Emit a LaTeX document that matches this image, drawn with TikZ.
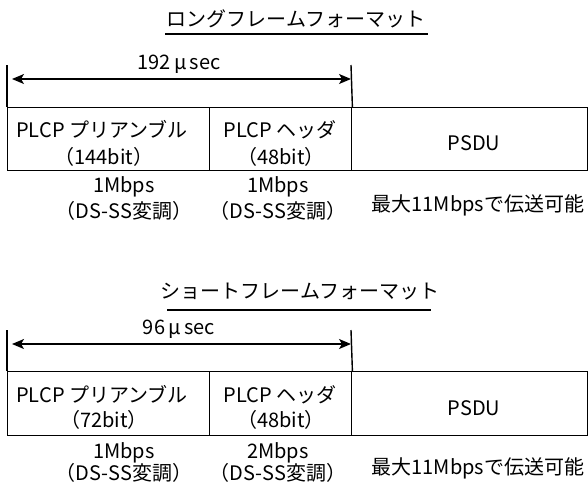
\documentclass[tikz,border=0pt]{standalone}
\usepackage{fontspec}
\setmainfont{Noto Sans CJK JP}
\usetikzlibrary{arrows.meta}
\begin{document}
\begin{tikzpicture}[x=1pt,y=-1pt, line width=1.4pt,
  lbl/.style={inner sep=0pt, font=\fontsize{20}{24}\selectfont, text height=17.6pt, text depth=2.4pt},
  ttl/.style={inner sep=0pt, font=\fontsize{20}{24}\selectfont, text height=17.6pt, text depth=2.4pt},
  cell/.style={draw, inner sep=0pt, anchor=north west},
  dim/.style={{Stealth[length=12pt,width=10pt,inset=3pt]}-{Stealth[length=12pt,width=10pt,inset=3pt]}, line width=1.3pt}]
\useasboundingbox (0,0) rectangle (588,483);
% ---------- long frame ----------
\node[ttl] (t1) at (296,19) {ロングフレームフォーマット};
\coordinate (u1a) at (165,34); \coordinate (u1b) at (428,34);
\draw (u1a) -- (u1b);
\node[cell, minimum width=202pt, minimum height=63pt] (pre1) at (7,107) {};
\node[cell, minimum width=142pt, minimum height=63pt] (hdr1) at (209,107) {};
\node[cell, minimum width=236pt, minimum height=63pt] (psdu1) at (351,107) {};
\coordinate (L1top) at (7,65); \coordinate (R1top) at (351,65);
\draw (L1top) -- (pre1.north west);
\draw (R1top) -- (hdr1.north east);
\coordinate (a1l) at (12,79); \coordinate (a1r) at (351,79);
\draw[dim] (a1l) -- (a1r);
\node[lbl] (d1) at (179,62) {192\,μ\,sec};
\node[lbl] (p1) at (102,130) {PLCP プリアンブル};
\node[lbl] (p1b) at (104,157) {（144bit）};
\node[lbl] (h1) at (280,130) {PLCP ヘッダ};
\node[lbl] (h1b) at (281,157) {（48bit）};
\node[lbl] (s1) at (474,143) {PSDU};
\node[lbl] (r1a) at (124,185) {1Mbps};
\node[lbl] (r1b) at (124,211) {（DS-SS変調）};
\node[lbl] (r1c) at (278,185) {1Mbps};
\node[lbl] (r1d) at (278,211) {（DS-SS変調）};
\node[lbl] (m1) at (478,204) {最大11Mbpsで伝送可能};
% ---------- short frame ----------
\node[ttl] (t2) at (300,291) {ショートフレームフォーマット};
\coordinate (u2a) at (167,310); \coordinate (u2b) at (431,310);
\draw (u2a) -- (u2b);
\node[cell, minimum width=202pt, minimum height=64pt] (pre2) at (7,371) {};
\node[cell, minimum width=142pt, minimum height=64pt] (hdr2) at (209,371) {};
\node[cell, minimum width=236pt, minimum height=64pt] (psdu2) at (351,371) {};
\coordinate (L2top) at (7,330); \coordinate (R2top) at (351,330);
\draw (L2top) -- (pre2.north west);
\draw (R2top) -- (hdr2.north east);
\coordinate (a2l) at (12,344); \coordinate (a2r) at (351,344);
\draw[dim] (a2l) -- (a2r);
\node[lbl] (d2) at (179,327) {96\,μ\,sec};
\node[lbl] (p2) at (102,395) {PLCP プリアンブル};
\node[lbl] (p2b) at (104,420) {（72bit）};
\node[lbl] (h2) at (280,395) {PLCP ヘッダ};
\node[lbl] (h2b) at (281,420) {（48bit）};
\node[lbl] (s2) at (474,408) {PSDU};
\node[lbl] (r2a) at (124,451) {1Mbps};
\node[lbl] (r2b) at (124,473) {（DS-SS変調）};
\node[lbl] (r2c) at (278,451) {2Mbps};
\node[lbl] (r2d) at (278,473) {（DS-SS変調）};
\node[lbl] (m2) at (478,467) {最大11Mbpsで伝送可能};
\end{tikzpicture}
\end{document}
